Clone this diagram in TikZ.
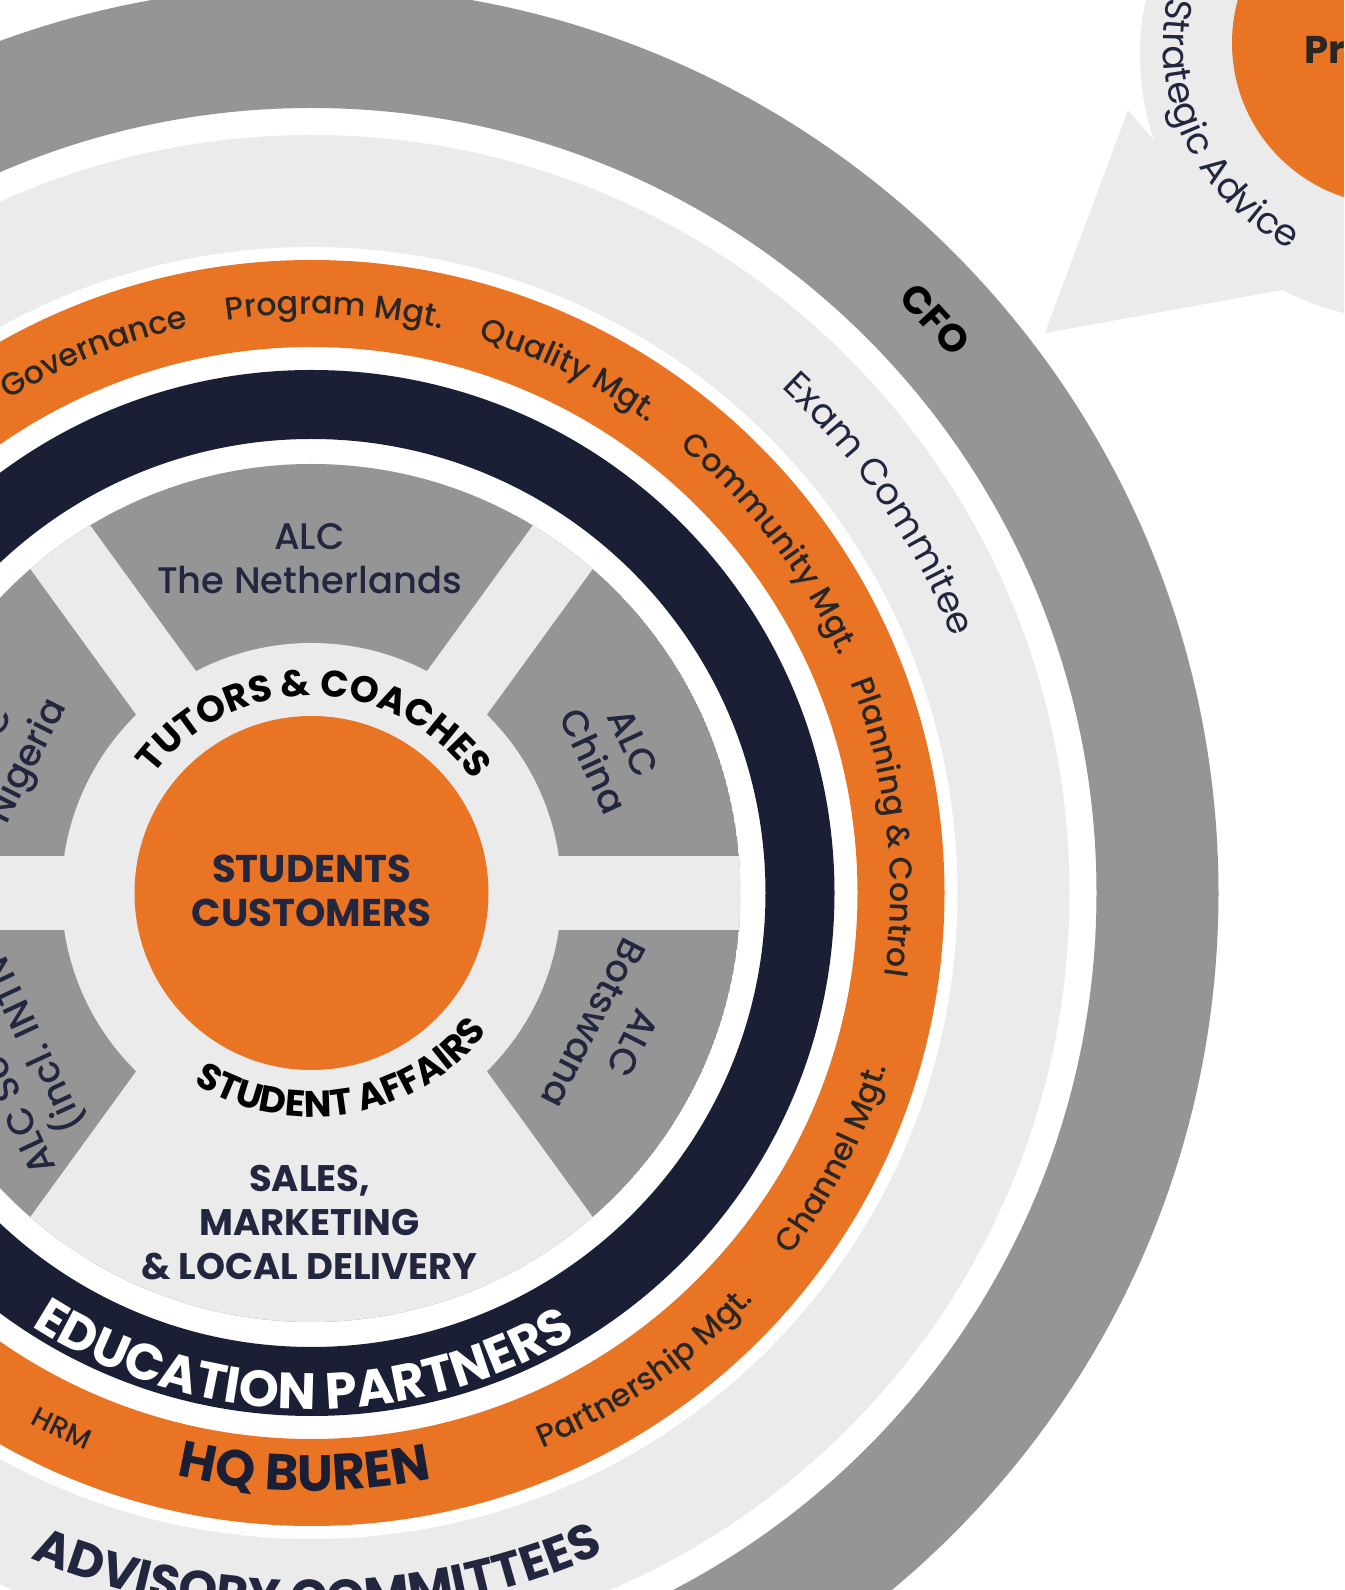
\documentclass[tikz,border=0pt]{standalone}
\usepackage{fontspec}
\setmainfont{Poppins}
\newfontfamily\medfont{Poppins Medium}
\usetikzlibrary{decorations.text}

\definecolor{hqorange}{HTML}{E97524}
\definecolor{hqnavy}{HTML}{1B1F36}
\definecolor{hqgray}{HTML}{959595}
\definecolor{hqlight}{HTML}{EBEBEB}
\definecolor{hqink}{HTML}{22263F}
\definecolor{hqdark}{HTML}{2A2624}

\begin{document}
\begin{tikzpicture}[x=0.01cm, y=0.01cm,
	curvetext/.style={decorate, decoration={text along path, text align=center, text={#1}}},
	alc/.style={align=center, text=hqink, font=\medfont\fontsize{10.5}{12.5}\selectfont},
	caps/.style={align=center, text=hqink, font=\bfseries\fontsize{10.5}{12.5}\selectfont}
]

\useasboundingbox (0,0) rectangle (1344,1590);
\clip (0,0) rectangle (1344,1590);
\fill[white] (0,0) rectangle (1344,1590);

\coordinate (ctr) at (311.5,697);
\coordinate (adv) at (1394,1547);
\coordinate (bubble) at (1405,1535);

% advice bubble, top right
\fill[hqlight] (bubble) circle (265);
\fill[hqlight] (1045,1257) -- (1128,1480) -- (1282,1300) -- cycle;
\fill[hqorange] (adv) circle (162);
\node[anchor=west, text=hqdark, font=\bfseries\fontsize{11}{13}\selectfont] (pr) at (1292,1540) {Pr};
\begin{scope}[shift={(adv)}]
	\path[curvetext={|\fontsize{10.5}{12}\selectfont\color{hqink}|Strategic Advice}] (161:231) arc[start angle=161, end angle=251, radius=231];
\end{scope}

\begin{scope}[shift={(ctr)}]
	% rings
	\fill[hqgray, even odd rule] (0,0) circle (907) circle (785);
	\fill[hqlight, even odd rule] (0,0) circle (758) circle (646);
	\fill[hqorange, even odd rule] (0,0) circle (633) circle (546);
	\fill[hqnavy, even odd rule] (0,0) circle (523) circle (454);
	\fill[hqlight] (0,0) circle (429);

	% partner blocks
	\begin{scope}
		\clip (0,0) circle (429);
		\fill[hqgray] (0,0) circle (429);
		\foreach \a in {0,54,126,180,234,306}
			\draw[hqlight, line width=0.74cm] (0,0) -- (\a:470);
		\fill[hqlight] (0,0) -- (234:470) -- (270:470) -- (306:470) -- cycle;
	\end{scope}
	\fill[hqlight] (0,0) circle (250);
	\fill[hqorange] (0,0) circle (177);

	\node[caps, font=\bfseries\fontsize{11}{12.5}\selectfont] (core) at (0,2) {STUDENTS\\CUSTOMERS};
	\node[alc] (nl) at (-2,334) {ALC\\The Netherlands};
	\node[alc, rotate=-65] (cn) at (25:333) {ALC\\China};
	\node[alc, rotate=-117] (bw) at (-25:333) {ALC\\Botswana};
	\node[alc, rotate=63] (ng) at (155:333) {ALC\\Nigeria};
	\node[alc, rotate=115, anchor=base west] (za) at (-250,-286) {ALC So};
	\node[alc, rotate=115, anchor=base west] (zb) at (-221,-244) {(incl. INTN};
	\node[caps] (sales) at (-2,-330) {SALES,\\MARKETING\\\& LOCAL DELIVERY};

	% hub
	\path[curvetext={|\bfseries\fontsize{10.5}{12}\selectfont\color{black}|TUTORS {\&} COACHES}] (164:197) arc[start angle=164, end angle=14, radius=197];
	\path[curvetext={|\bfseries\fontsize{10.5}{12}\selectfont\color{black}|STUDENT AFFAIRS}] (205:224) arc[start angle=205, end angle=355, radius=224];

	% navy ring
	\path[curvetext={|\bfseries\fontsize{14.5}{16}\selectfont\color{white}|EDUCATION PARTNERS}] (219:516) arc[start angle=219, end angle=319, radius=516];

	% orange ring
	\path[curvetext={|\medfont\fontsize{9}{11}\selectfont\color{hqdark}|Governance}] (131.9:579) arc[start angle=131.9, end angle=91.9, radius=579];
	\path[curvetext={|\medfont\fontsize{9}{11}\selectfont\color{hqdark}|Program Mgt.}] (107.7:579) arc[start angle=107.7, end angle=67.7, radius=579];
	\path[curvetext={|\medfont\fontsize{9}{11}\selectfont\color{hqdark}|Quality Mgt.}] (83.8:579) arc[start angle=83.8, end angle=43.8, radius=579];
	\path[curvetext={|\medfont\fontsize{9}{11}\selectfont\color{hqdark}|Community Mgt.}] (62.3:579) arc[start angle=62.3, end angle=12.3, radius=579];
	\path[curvetext={|\medfont\fontsize{9}{11}\selectfont\color{hqdark}|Planning {\&} Control}] (36.6:579) arc[start angle=36.6, end angle=-23.4, radius=579];
	\path[curvetext={|\medfont\fontsize{9}{11}\selectfont\color{hqdark}|Channel Mgt.}] (318:601) arc[start angle=318, end angle=348, radius=601];
	\path[curvetext={|\medfont\fontsize{9}{11}\selectfont\color{hqdark}|Partnership Mgt.}] (285:601) arc[start angle=285, end angle=325, radius=601];
	\path[curvetext={|\medfont\fontsize{8}{10}\selectfont\color{hqdark}|HRM}] (230:601) arc[start angle=230, end angle=260, radius=601];
	\path[curvetext={|\bfseries\fontsize{14.5}{16}\selectfont\color{hqnavy}|HQ BUREN}] (239.3:598) arc[start angle=239.3, end angle=299.3, radius=598];

	% light ring
	\path[curvetext={|\fontsize{10.5}{12}\selectfont\color{hqink}|Exam Commitee}] (59.4:690) arc[start angle=59.4, end angle=9.4, radius=690];
	\path[curvetext={|\bfseries\fontsize{14}{16}\selectfont\color{hqink}|ADVISORY COMMITTEES}] (230.5:722) arc[start angle=230.5, end angle=310.5, radius=722];

	% gray ring
	\path[curvetext={|\bfseries\fontsize{11}{13}\selectfont\color{black}|CFO}] (57.6:834) arc[start angle=57.6, end angle=27.6, radius=834];
\end{scope}

\end{tikzpicture}
\end{document}
